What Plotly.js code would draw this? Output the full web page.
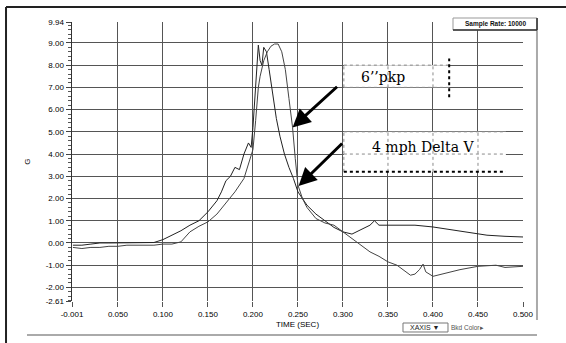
<!DOCTYPE html>
<html>
<head>
<meta charset="utf-8">
<script src="https://cdn.plot.ly/plotly-3.0.1.min.js"></script>
<style>html,body{margin:0;padding:0;background:#fff;}#chart{width:566px;height:343px;}</style>
</head>
<body>
<div id="chart"></div>
<script>
// Curve A: earlier rise, notched peak, positive tail (sec, G)
var timeA = [0,0.01,0.02,0.03,0.04,0.05,0.06,0.07,0.08,0.09,0.10,0.11,0.12,0.13,0.14,0.15,0.16,0.165,0.17,0.175,0.18,0.185,0.19,0.195,0.198,0.20,0.203,0.206,0.208,0.21,0.212,0.215,0.218,0.222,0.226,0.23,0.235,0.24,0.245,0.25,0.26,0.27,0.28,0.29,0.30,0.31,0.32,0.33,0.335,0.34,0.35,0.36,0.38,0.40,0.42,0.44,0.46,0.48,0.50];
var gA =    [-0.1,-0.1,-0.05,0,0,0,0,0,0,0.02,0.15,0.35,0.55,0.8,1.0,1.4,1.9,2.3,2.8,3.0,3.4,3.3,4.0,4.5,4.3,5.2,7.0,8.9,8.2,8.0,8.8,8.6,7.8,6.6,5.6,4.8,4.0,3.4,2.9,2.3,1.7,1.3,1.0,0.7,0.5,0.4,0.6,0.8,1.0,0.8,0.8,0.8,0.8,0.72,0.6,0.5,0.35,0.3,0.27];
// Curve B: later rise, smooth peak, negative tail (sec, G)
var timeB = [0,0.01,0.02,0.03,0.04,0.05,0.06,0.07,0.08,0.09,0.10,0.11,0.12,0.125,0.13,0.14,0.15,0.16,0.17,0.175,0.18,0.19,0.195,0.20,0.203,0.206,0.208,0.212,0.216,0.22,0.224,0.228,0.232,0.236,0.24,0.244,0.247,0.25,0.255,0.26,0.27,0.28,0.29,0.30,0.31,0.32,0.33,0.34,0.35,0.36,0.37,0.375,0.38,0.385,0.389,0.392,0.40,0.41,0.42,0.43,0.45,0.47,0.48,0.50];
var gB =    [-0.2,-0.25,-0.2,-0.2,-0.15,-0.15,-0.1,-0.1,-0.1,-0.1,-0.05,-0.05,0.05,0.3,0.5,0.75,0.95,1.3,1.8,2.1,2.3,2.9,3.6,4.2,5.5,7.0,7.5,8.2,8.6,8.85,8.95,8.95,8.6,7.8,6.5,5.2,3.8,2.6,2.0,1.6,1.1,0.9,0.8,0.5,0.2,-0.1,-0.4,-0.6,-0.85,-1.0,-1.3,-1.45,-1.4,-1.2,-0.95,-1.3,-1.5,-1.4,-1.3,-1.2,-1.05,-1.0,-1.1,-1.05];

var xTickVals = [-0.001,0.05,0.10,0.15,0.20,0.25,0.30,0.35,0.40,0.45,0.50];
var xTickText = ["-0.001","0.050","0.100","0.150","0.200","0.250","0.300","0.350","0.400","0.450","0.500"];
var yTickVals = [-2.61,-2,-1,0,1,2,3,4,5,6,7,8,9,9.94];
var yTickText = ["-2.61","-2.00","-1.00","0.00","1.00","2.00","3.00","4.00","5.00","6.00","7.00","8.00","9.00","9.94"];

var labelFont = {family:"Liberation Sans, Arial, sans-serif", size:8, color:"#000"};
var serif = {family:"DejaVu Serif, Liberation Serif, serif", size:14, color:"#000"};

var traces = [
  {x: timeA, y: gA, type:"scatter", mode:"lines", line:{color:"#222", width:1}, showlegend:false, hoverinfo:"skip"},
  {x: timeB, y: gB, type:"scatter", mode:"lines", line:{color:"#444", width:1}, showlegend:false, hoverinfo:"skip"}
];

function dotLine(x0,y0,x1,y1,color,w){
  return {type:"line", xref:"x", yref:"y", x0:x0, y0:y0, x1:x1, y1:y1, line:{color:color, width:w, dash:"dot"}, layer:"above"};
}
var gray = "#8a8a8a";
var shapes = [
  // box 1 (6''pkp)
  {type:"rect", xref:"x", yref:"y", x0:0.301, x1:0.418, y0:7.0, y1:8.0, fillcolor:"#fff", line:{width:0}, layer:"above"},
  dotLine(0.301,8.0,0.418,8.0,gray,1),
  dotLine(0.301,7.0,0.418,7.0,gray,1),
  dotLine(0.301,7.0,0.301,8.0,gray,1),
  dotLine(0.35,7.0,0.35,8.0,gray,1),
  dotLine(0.40,7.0,0.40,8.0,gray,1),
  dotLine(0.418,6.55,0.418,8.3,"#000",2),
  // box 2 (4 mph Delta V)
  {type:"rect", xref:"x", yref:"y", x0:0.301, x1:0.481, y0:3.2, y1:5.0, fillcolor:"#fff", line:{width:0}, layer:"above"},
  dotLine(0.301,5.0,0.481,5.0,gray,1),
  dotLine(0.301,4.0,0.481,4.0,gray,1),
  dotLine(0.301,3.2,0.301,5.0,gray,1),
  dotLine(0.35,3.2,0.35,5.0,gray,1),
  dotLine(0.40,3.2,0.40,5.0,gray,1),
  dotLine(0.45,3.2,0.45,5.0,gray,1),
  dotLine(0.301,3.2,0.481,3.2,"#000",2),
  // outer panel frame
  {type:"line", xref:"paper", yref:"paper", x0:-0.1463, x1:-0.1463, y0:1.0538, y1:-0.16, line:{color:"#222", width:2}},
  {type:"line", xref:"paper", yref:"paper", x0:-0.1463, x1:1.1, y0:1.0538, y1:1.0538, line:{color:"#222", width:2}},
  {type:"line", xref:"paper", yref:"paper", x0:-0.0998, x1:1.031, y0:-0.1219, y1:-0.1219, line:{color:"#aaa", width:2}},
  {type:"line", xref:"paper", yref:"paper", x0:1.031, x1:1.031, y0:1.0143, y1:-0.0681, line:{color:"#aaa", width:2}},
  // sample rate box
  {type:"rect", xref:"paper", yref:"paper", x0:0.8448, x1:1.031, y0:0.9713, y1:1.0143, fillcolor:"#fff", line:{color:"#999", width:1}},
  {type:"line", xref:"paper", yref:"paper", x0:0.8448, x1:1.031, y0:0.9713, y1:0.9713, line:{color:"#333", width:1.5}},
  {type:"line", xref:"paper", yref:"paper", x0:1.031, x1:1.031, y0:0.9713, y1:1.0143, line:{color:"#333", width:1.5}},
  // XAXIS dropdown
  {type:"rect", xref:"paper", yref:"paper", x0:0.7339, x1:0.8337, y0:-0.1111, y1:-0.0789, fillcolor:"#fff", line:{color:"#777", width:1}}
];

var annotations = [
  {x:0.3445, y:7.45, xref:"x", yref:"y", xanchor:"center", yanchor:"middle", text:"6\u2019\u2019pkp", showarrow:false, font:serif},
  {x:0.389, y:4.3, xref:"x", yref:"y", xanchor:"center", yanchor:"middle", text:"4 mph Delta V", showarrow:false, font:serif},
  {x:0.244, y:5.2, xref:"x", yref:"y", text:"", showarrow:true, ax:46, ay:-42, arrowhead:2, arrowsize:1.2, arrowwidth:3, arrowcolor:"#000"},
  {x:0.2507, y:2.56, xref:"x", yref:"y", text:"", showarrow:true, ax:45, ay:-44, arrowhead:2, arrowsize:1.2, arrowwidth:3, arrowcolor:"#000"},
  {x:0.938, y:0.993, xref:"paper", yref:"paper", xanchor:"center", yanchor:"middle", text:"<b>Sample Rate: 10000</b>", showarrow:false, font:{family:"Liberation Sans, Arial", size:6.5, color:"#111"}},
  {x:0.7827, y:-0.095, xref:"paper", yref:"paper", xanchor:"center", yanchor:"middle", text:"XAXIS \u25BC", showarrow:false, font:{family:"Liberation Sans, Arial", size:7, color:"#222"}},
  {x:0.876, y:-0.095, xref:"paper", yref:"paper", xanchor:"center", yanchor:"middle", text:"Bkd Color\u25B8", showarrow:false, font:{family:"Liberation Sans, Arial", size:6.5, color:"#555"}}
];

var layout = {
  width:566, height:343,
  margin:{l:72, r:43, t:22, b:42},
  paper_bgcolor:"#fff", plot_bgcolor:"#fff",
  showlegend:false,
  xaxis:{
    range:[-0.001,0.5], tickvals:xTickVals, ticktext:xTickText,
    showgrid:true, gridcolor:"#555", gridwidth:1, zeroline:false, showline:false,
    ticks:"outside", ticklen:5, tickcolor:"#555", tickfont:labelFont,
    title:{text:"TIME (SEC)", font:labelFont, standoff:3}, automargin:false
  },
  xaxis2:{
    overlaying:"x", anchor:"free", position:0.20797, range:[-0.001,0.5],
    tick0:0, dtick:0.01, ticks:"outside", ticklen:3, tickcolor:"#222",
    showticklabels:false, showgrid:false, zeroline:false, showline:true, linecolor:"#222", linewidth:1
  },
  xaxis3:{
    overlaying:"x", anchor:"free", position:0.20797, range:[-0.001,0.5],
    tick0:0, dtick:0.01, ticks:"inside", ticklen:3, tickcolor:"#222",
    showticklabels:false, showgrid:false, zeroline:false, showline:false
  },
  yaxis:{
    range:[-2.61,9.94], tickvals:yTickVals, ticktext:yTickText,
    showgrid:true, gridcolor:"#555", gridwidth:1, zeroline:false,
    showline:true, linecolor:"#333", linewidth:1.5,
    ticks:"outside", ticklen:5, tickcolor:"#444", tickfont:labelFont,
    minor:{dtick:0.2, tick0:0, ticks:"outside", ticklen:3, tickcolor:"#555", showgrid:false},
    title:{text:"G", font:labelFont, standoff:14}, automargin:false
  },
  shapes:shapes,
  annotations:annotations
};

Plotly.newPlot("chart", traces, layout, {staticPlot:true, displayModeBar:false});
</script>
</body>
</html>
